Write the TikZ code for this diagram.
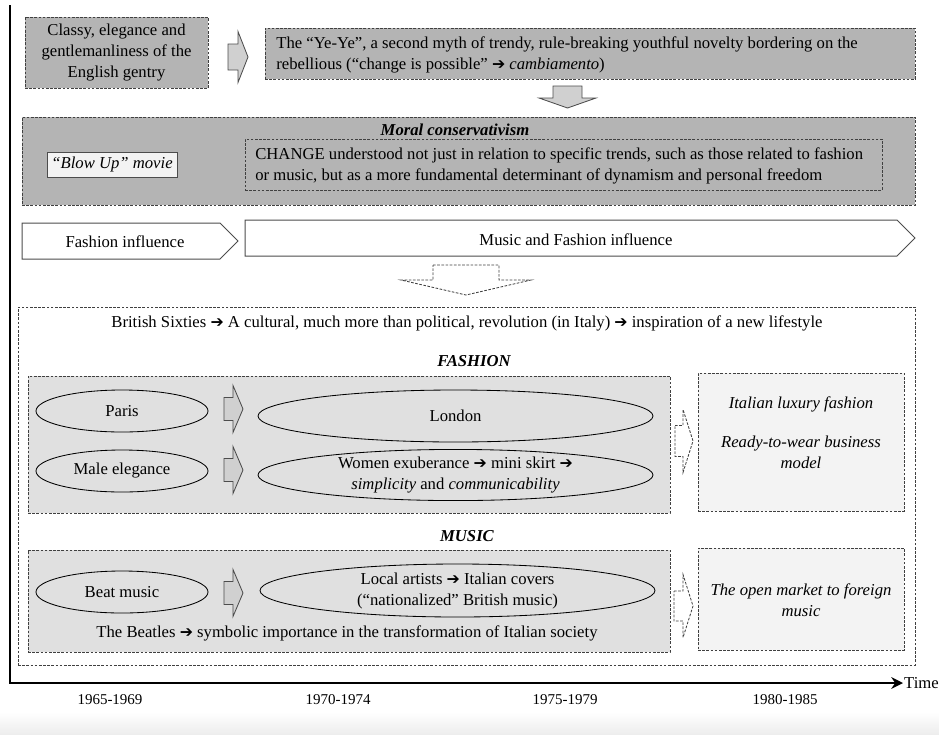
\documentclass[tikz,border=0pt]{standalone}
\usepackage{fontspec}
\setmainfont{Liberation Serif}
\newfontfamily\arrowfont{DejaVu Sans}[Scale=0.95]
\usetikzlibrary{shapes.geometric, arrows.meta}
\definecolor{boxgray}{RGB}{180,180,180}
\definecolor{panelgray}{RGB}{224,224,224}
\definecolor{palegray}{RGB}{243,243,243}
\definecolor{arrowgray}{RGB}{208,208,208}
\newcommand{\ra}{{\arrowfont ➔}}

% block arrow pointing right: style, left x, mid y, shaft length, head length, shaft half, head half
\newcommand{\rblock}[7][]{%
\draw[#1] (#2,{#3-#6}) -- ({#2+#4},{#3-#6}) -- ({#2+#4},{#3-#7}) -- ({#2+#4+#5},#3)
  -- ({#2+#4},{#3+#7}) -- ({#2+#4},{#3+#6}) -- (#2,{#3+#6}) -- cycle;}
% block arrow pointing down: style, mid x, top y, shaft length, head length, shaft half, head half
\newcommand{\dblock}[7][]{%
\draw[#1] ({#2-#6},#3) -- ({#2+#6},#3) -- ({#2+#6},{#3+#4}) -- ({#2+#7},{#3+#4})
  -- (#2,{#3+#4+#5}) -- ({#2-#7},{#3+#4}) -- ({#2-#6},{#3+#4}) -- cycle;}

\tikzset{
  sz/.style 2 args={minimum width=#1*0.6pt, minimum height=#2*0.6pt},
  dashbox/.style={draw=black!75, line width=0.5pt, dash pattern=on 1.6pt off 0.9pt, inner sep=0pt},
  graybox/.style={dashbox, fill=boxgray, align=center},
  panel/.style={dashbox, fill=panelgray},
  outcome/.style={dashbox, fill=palegray},
  oval/.style={ellipse, draw, fill=panelgray, line width=0.5pt, inner sep=0pt, align=center},
  flow/.style={draw=black!70, fill=white, line width=0.6pt},
  solidarr/.style={draw=black!70, fill=arrowgray, line width=0.5pt},
  dasharr/.style={draw=black!75, fill=white, line width=0.5pt, dash pattern=on 1.6pt off 0.9pt},
  heading/.style={font=\fontsize{10}{12.6}\selectfont\bfseries\itshape},
  axis/.style={line width=1.3pt},
}

\begin{document}
\begin{tikzpicture}[x=0.6pt, y=-0.6pt, every node/.style={font=\fontsize{10}{12.6}\selectfont}]
\useasboundingbox (0,0) rectangle (939,734);
\shade[top color=white, bottom color=black!7] (0,712) rectangle (939,734);

% top row
\node[graybox, sz={183}{71}] (gentry) at (116.5,52.5) {Classy, elegance and\\gentlemanliness of the\\English gentry};
\rblock[solidarr]{228}{57}{10}{10}{13}{25.5}
\node[graybox, sz={650}{51}] (yeye) at (590,53.5) {};
\node[anchor=west, align=left, inner sep=0pt] (yeyetext) at (276,54.5)
  {The “Ye-Ye”, a second myth of trendy, rule-breaking youthful novelty bordering on the\\rebellious (“change is possible” \ra{} \textit{cambiamento})};
\dblock[solidarr]{567.5}{86}{12}{10}{14.5}{28.5}

% moral conservativism
\node[graybox, sz={893}{88}] (moral) at (468.5,161) {};
\node[heading] (moraltitle) at (455,130) {Moral conservativism};
\node[draw=black!70, fill=palegray, line width=0.6pt, sz={130}{25}, inner sep=0pt,
  font=\fontsize{10}{12.6}\selectfont\itshape] (blowup) at (112,164.5) {“Blow Up” movie};
\node[dashbox, sz={637}{51}] (change) at (563.5,164.5) {};
\node[anchor=west, align=left, inner sep=0pt] (changetext) at (255,166)
  {CHANGE understood not just in relation to specific trends, such as those related to fashion\\or music, but as a more fundamental determinant of dynamism and personal freedom};

% influence bands
\draw[flow] (22,223) -- (220,223) -- (238,241) -- (220,259) -- (22,259) -- cycle;
\node (fashinf) at (125,242) {Fashion influence};
\draw[flow] (245,220) -- (897,220) -- (915,238) -- (897,256) -- (245,256) -- cycle;
\node (musinf) at (576,240) {Music and Fashion influence};
\dblock[dasharr]{466}{265}{15}{15}{33}{65}

% british sixties
\node[dashbox, fill=white, sz={897}{358}] (sixties) at (466.5,486) {};
\node (sixtiestext) at (467,323) {British Sixties \ra{} A cultural, much more than political, revolution (in Italy) \ra{} inspiration of a new lifestyle};

% fashion
\node[heading] (fashtitle) at (474,361) {FASHION};
\node[panel, sz={642}{137}] (fashpanel) at (349,444.5) {};
\node[oval, sz={172}{42}] (paris) at (122,411) {Paris};
\node[oval, sz={172}{42}] (male) at (122,471) {Male elegance};
\rblock[solidarr]{224}{409}{9}{10}{11.5}{23.5}
\rblock[solidarr]{224}{470}{9}{10}{11.5}{23.5}
\node[oval, sz={395}{52}] (london) at (455.5,416) {London};
\node[oval, sz={395}{50}] (women) at (455.5,475) {Women exuberance \ra{} mini skirt \ra{}\\\textit{simplicity} and \textit{communicability}};
\rblock[dasharr]{675}{441}{8}{10}{15.5}{31.5}
\node[outcome, sz={206}{138}] (luxury) at (801,442) {};
\node[align=center, font=\fontsize{10}{12.6}\selectfont\itshape] (luxurytext) at (801,433)
  {Italian luxury fashion\\[10.8pt]Ready-to-wear business\\model};

% music
\node[heading] (mustitle) at (467,536) {MUSIC};
\node[panel, sz={642}{102}] (muspanel) at (349,601) {};
\node[oval, sz={172}{42}] (beat) at (122,592) {Beat music};
\rblock[solidarr]{224}{593}{9}{10}{11.5}{23.5}
\node[oval, sz={395}{53}] (local) at (457.5,590.5) {Local artists \ra{} Italian covers\\(“nationalized” British music)};
\node (beatles) at (347,633) {The Beatles \ra{} symbolic importance in the transformation of Italian society};
\rblock[dasharr]{674}{606}{9}{10}{15}{31.5}
\node[outcome, sz={206}{102}] (openmkt) at (801,599) {};
\node[align=center, font=\fontsize{10}{12.6}\selectfont\itshape] (openmkttext) at (801,600)
  {The open market to foreign\\music};

% time axis
\coordinate (origin) at (10,683);
\coordinate (axisend) at (903,683);
\draw[axis, -{Stealth[length=7pt, width=7pt]}] (10,5) -- (origin) -- (axisend);
\node[anchor=west, inner sep=0.5pt] (time) at (axisend) {Time};
\foreach \yr/\xx [count=\i] in {1965-1969/110, 1970-1974/338, 1975-1979/565, 1980-1985/785}
  \node[font=\fontsize{9}{11}\selectfont] (period\i) at (\xx,700) {\yr};
\end{tikzpicture}
\end{document}
